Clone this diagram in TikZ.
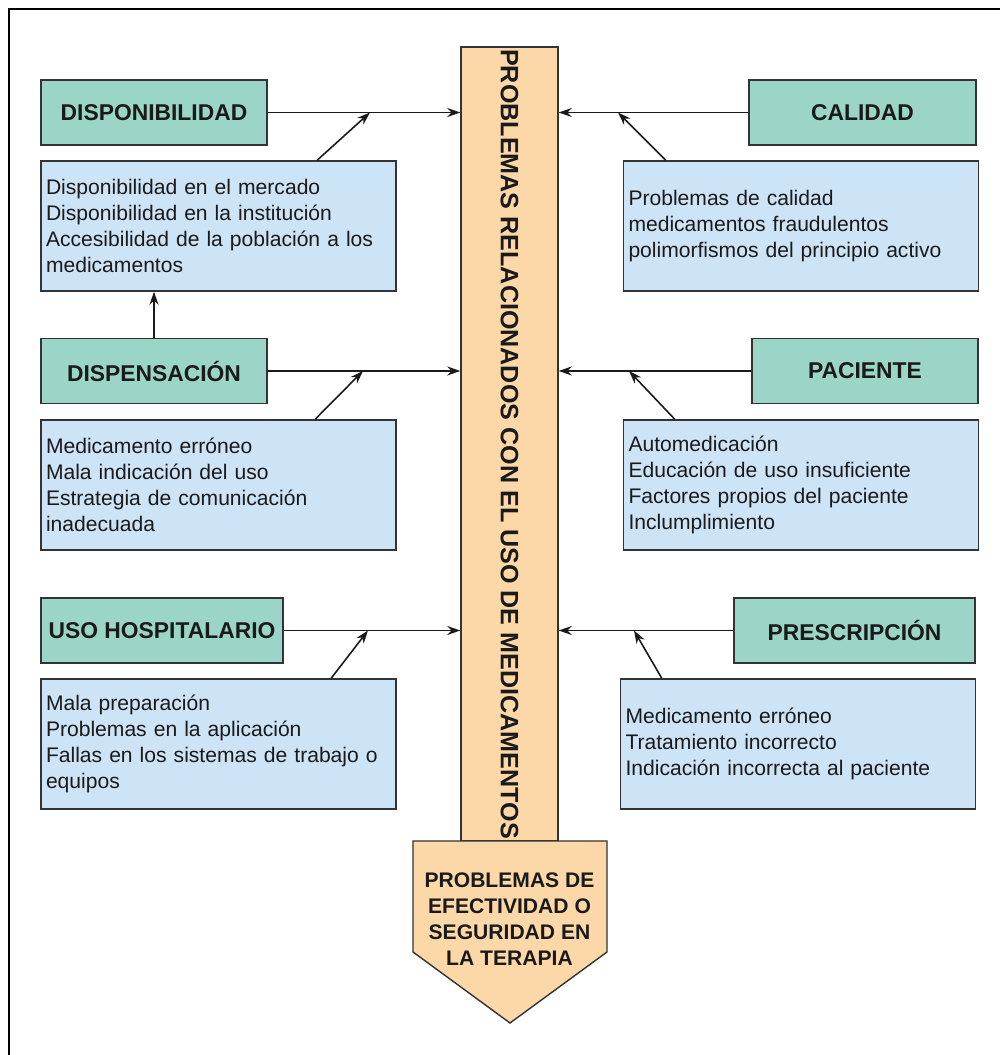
\documentclass[tikz,border=0pt]{standalone}
\usepackage{fontspec}
\setmainfont{Liberation Sans}
\usetikzlibrary{arrows.meta,calc,positioning}
\definecolor{prmverde}{HTML}{9AD5C8}
\definecolor{prmazul}{HTML}{CDE4F7}
\definecolor{prmnaranja}{HTML}{FCD8A8}
\definecolor{prmborde}{HTML}{333333}
\definecolor{prmtinta}{HTML}{1A1A1A}

\begin{document}
\begin{tikzpicture}[>={Stealth[length=2.6mm,width=1.8mm]},
  text=prmtinta,
  factor/.style={draw=prmborde,line width=.9pt,fill=prmverde,minimum height=1.3cm,
    inner sep=0pt,font=\fontsize{13}{15}\selectfont\bfseries},
  lista/.style={draw=prmborde,line width=.9pt,fill=prmazul,minimum height=2.6cm,
    text width=6.9cm,inner xsep=.1cm,align=left,font=\fontsize{12}{14.8}\selectfont},
  eje/.style={draw=prmborde,line width=.8pt,fill=prmnaranja,minimum width=1.94cm,
    minimum height=15.88cm,inner sep=0pt},
  flecha/.style={->,line width=.9pt,draw=prmtinta}]
\path[use as bounding box] (0,0) rectangle (20,21.1);
\fill[white] (0,0) rectangle (20,21.1);
\draw[line width=1.5pt] (0.18,0) -- (0.18,20.92) -- (20,20.92);

% eje central y flecha final
\node[eje] (eje) at (10.19,12.22) {};
\node[rotate=-90,font=\fontsize{14.3}{16}\selectfont\bfseries] (ejetxt) at (eje.center)
  {PROBLEMAS RELACIONADOS CON EL USO DE MEDICAMENTOS};
\draw[draw=prmborde,line width=.8pt,fill=prmnaranja] (8.26,4.28) -- (12.14,4.28)
  -- (12.14,2.06) -- (10.2,0.64) -- (8.26,2.06) -- cycle;
\node[align=center,font=\fontsize{12}{14.8}\selectfont\bfseries] (terapia) at (10.19,2.72)
  {PROBLEMAS DE\\EFECTIVIDAD O\\SEGURIDAD EN\\LA TERAPIA};

% lado izquierdo
\node[factor,minimum width=4.52cm] (disponib) at (3.08,18.85) {DISPONIBILIDAD};
\node[lista] (disponibL) at (4.37,16.58) {Disponibilidad en el mercado\\Disponibilidad en la institución\\Accesibilidad de la población a los\\medicamentos};
\node[factor,minimum width=4.52cm] (dispensa) at (3.08,13.68) {DISPENSACIÓN};
\node[lista] (dispensaL) at (4.37,11.4) {Medicamento erróneo\\Mala indicación del uso\\Estrategia de comunicación\\inadecuada};
\node[factor,minimum width=4.84cm] (hospital) at (3.24,8.49) {USO HOSPITALARIO};
\node[lista] (hospitalL) at (4.37,6.22) {Mala preparación\\Problemas en la aplicación\\Fallas en los sistemas de trabajo o\\equipos};

% lado derecho
\node[factor,minimum width=4.54cm] (calidad) at (17.25,18.85) {CALIDAD};
\node[lista] (calidadL) at (16.02,16.58) {Problemas de calidad\\medicamentos fraudulentos\\polimorfismos del principio activo};
\node[factor,minimum width=4.52cm] (paciente) at (17.3,13.68) {PACIENTE};
\node[lista] (pacienteL) at (16.02,11.4) {Automedicación\\Educación de uso insuficiente\\Factores propios del paciente\\Inclumplimiento};
\node[factor,minimum width=4.82cm] (prescrip) at (17.09,8.49) {PRESCRIPCIÓN};
\node[lista] (prescripL) at (15.96,6.22) {Medicamento erróneo\\Tratamiento incorrecto\\Indicación incorrecta al paciente};

% puntos donde llegan las flechas oblicuas
\coordinate (j1) at (7.4,18.85);
\coordinate (j2) at (7.26,13.68);
\coordinate (j3) at (7.36,8.49);
\coordinate (k1) at (12.36,18.85);
\coordinate (k2) at (12.58,13.68);
\coordinate (k3) at (12.68,8.49);

\draw[flecha] (disponib.east) -- (disponib.east -| eje.west);
\draw[flecha] (dispensa.east) -- (dispensa.east -| eje.west);
\draw[flecha] (hospital.east) -- (hospital.east -| eje.west);
\draw[flecha] (calidad.west) -- (calidad.west -| eje.east);
\draw[flecha] (paciente.west) -- (paciente.west -| eje.east);
\draw[flecha] (prescrip.west) -- (prescrip.west -| eje.east);

\draw[flecha] ($(disponibL.north west)+(5.54,0)$) -- (j1);
\draw[flecha] ($(dispensaL.north west)+(5.5,0)$) -- (j2);
\draw[flecha] ($(hospitalL.north west)+(5.82,0)$) -- (j3);
\draw[flecha] ($(calidadL.north west)+(.86,0)$) -- (k1);
\draw[flecha] ($(pacienteL.north west)+(1.04,0)$) -- (k2);
\draw[flecha] ($(prescripL.north west)+(.84,0)$) -- (k3);

\draw[flecha] (dispensa.north) -- (dispensa.north |- disponibL.south);
\end{tikzpicture}
\end{document}
